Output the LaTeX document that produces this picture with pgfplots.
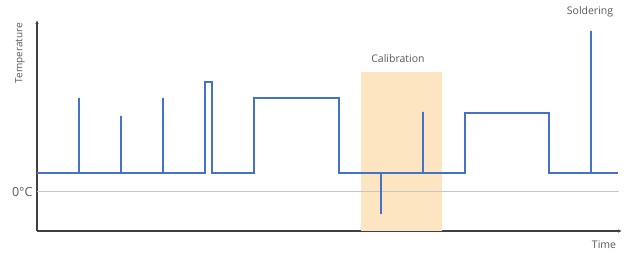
\documentclass[border=0pt]{standalone}
\usepackage{pgfplots}
\pgfplotsset{compat=1.18}
\usepackage{fontspec}
\setmainfont{Open Sans}
\usetikzlibrary{arrows.meta}
\definecolor{lineblue}{RGB}{68,114,196}
\definecolor{calib}{RGB}{252,229,192}
\definecolor{txtgray}{RGB}{89,89,89}
\definecolor{axgray}{RGB}{64,64,64}
\begin{document}
\begin{tikzpicture}
\begin{axis}[
  scale only axis,
  width=585pt, height=211pt,
  xmin=37, xmax=622, ymin=22, ymax=233,
  axis lines=left,
  axis line style={axgray, line width=1.1pt, -{Latex[length=4pt,width=3.5pt]}},
  xtick=\empty,
  ytick={61.3}, yticklabels={0°C},
  major tick length=0pt,
  yticklabel style={txtgray, font=\fontsize{12.5}{14}\selectfont, xshift=-1pt},
  clip=false,
]
\path (axis cs:0,0) rectangle (axis cs:628,253);
\addplot[fill=calib, draw=none] coordinates {(361,22) (361,181) (442,181) (442,22)} -- cycle;
\addplot[gray!45, line width=0.8pt] coordinates {(37,61.3) (619,61.3)};
\addplot[lineblue, line width=1.6pt] coordinates {
(37,80)(79,80)(79,155)(79,80)(121,80)(121,137)(121,80)(163,80)(163,155)(163,80)
(205,80)(205,171)(212,171)(212,80)(254,80)(254,155)(339,155)(339,80)
(381,80)(381,39)(381,80)(423,80)(423,141)(423,80)(465,80)(465,140)(549,140)(549,80)
(591,80)(591,222)(591,80)(618,80)};
\node[txtgray, rotate=90, font=\fontsize{10}{12}\selectfont] at (axis cs:20,200) {Temperature};
\node[txtgray, font=\fontsize{10.5}{12}\selectfont] at (axis cs:398,194) {Calibration};
\node[txtgray, font=\fontsize{10.5}{12}\selectfont] at (axis cs:590,241) {Soldering};
\node[txtgray, font=\fontsize{10.5}{12}\selectfont] at (axis cs:604,8) {Time};
\end{axis}
\end{tikzpicture}
\end{document}
